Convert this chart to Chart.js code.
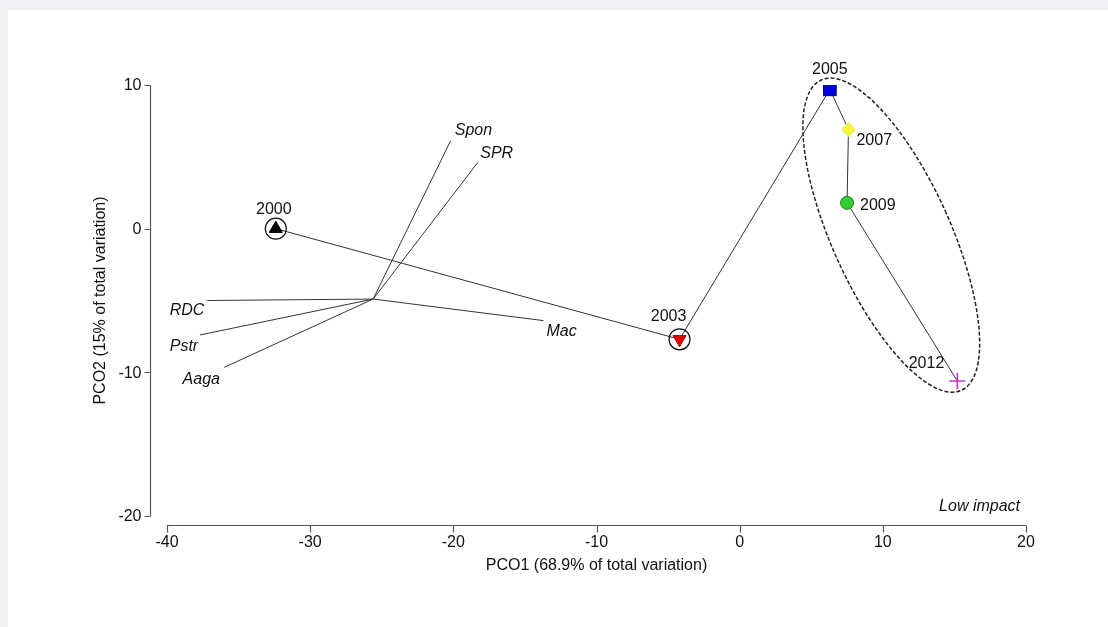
<!DOCTYPE html>
<html>
<head>
<meta charset="utf-8">
<title>PCO</title>
<script src="https://cdn.jsdelivr.net/npm/chart.js@4"></script>
<style>
  html, body { margin: 0; padding: 0; background: #f0f1f5; overflow: hidden; }
  #wrap { position: absolute; left: 8px; top: 10px; width: 1100px; height: 617px; background: #fff; }
  canvas { display: block; }
</style>
</head>
<body>
<div id="wrap"><canvas id="pco" width="1100" height="617"></canvas></div>
<script>
// sample years along the trajectory
const years = ['2000', '2003', '2005', '2007', '2009', '2012'];
const pco1 = [-32.4, -4.2, 6.3, 7.6, 7.5, 15.2];
const pco2 = [0, -7.7, 9.7, 6.9, 1.8, -10.6];
const circledYears = ['2000', '2003'];

// species / variable vectors, all drawn from one origin
const vectorNames = ['Spon', 'SPR', 'Mac', 'RDC', 'Pstr', 'Aaga'];
const vectorPco1 = [-20.2, -18.3, -13.7, -37.2, -37.7, -36.0];
const vectorPco2 = [6.1, 4.6, -6.4, -5.0, -7.4, -9.65];
const vectorOrigin = [-25.6, -4.9];

const xTicks = [-40, -30, -20, -10, 0, 10, 20];
const yTicks = [10, 0, -10, -20];

// group ellipse (centre, semi axes in axis units, tilt from vertical in degrees)
const groupCentre = [10.59, -0.45];
const groupAxes = [4.13, 11.85];
const groupTilt = -24.3;

const FONT = "'Liberation Sans', Arial, Helvetica, sans-serif";

// marker look per year
const markerStyle = ['triangle', 'triangle', 'rect', 'rectRot', 'circle', 'cross'];
const markerRotation = [0, 180, 0, 0, 0, 0];
const markerRadius = [7.5, 7.5, 9, 7, 6.5, 8];
const markerFill = ['#000000', '#e00000', '#0000e0', '#f4f43a', '#33cc33', '#cc33cc'];
const markerLine = ['#000000', '#b00000', '#000070', '#e8e870', '#1f7f1f', '#cc33cc'];
const markerLineWidth = [1, 1, 1, 1, 1, 1.6];

// label placement relative to the mark, in pixels: [dx, dy, align]
const yearLabelPos = [[-2, -19, 'center'], [-11, -23, 'center'], [0, -20, 'center'],
                      [8, 11, 'left'], [13, 3, 'left'], [-13, -17, 'right']];
const vectorLabelPos = [[23, -10, 'center'], [19, -9, 'center'], [18, 11, 'center'],
                        [-20, 10, 'center'], [-16, 12, 'center'], [-23, 12, 'center']];

const points = years.map((y, i) => ({ x: pco1[i], y: pco2[i] }));
const ringed = years.map((y, i) => circledYears.includes(y) ? { x: pco1[i], y: pco2[i] } : null)
                    .filter(p => p);

// each vector is origin -> tip, separated by a gap
const vectorSegments = [];
vectorNames.forEach((n, i) => {
  vectorSegments.push({ x: vectorOrigin[0], y: vectorOrigin[1] });
  vectorSegments.push({ x: vectorPco1[i], y: vectorPco2[i] });
  vectorSegments.push({ x: null, y: null });
});

const decorations = {
  id: 'decorations',
  beforeDatasetsDraw(chart) {
    const { ctx, scales: { x, y } } = chart;
    // dashed ellipse around the later years
    const cx = x.getPixelForValue(groupCentre[0]);
    const cy = y.getPixelForValue(groupCentre[1]);
    const rx = groupAxes[0] * Math.abs(x.getPixelForValue(1) - x.getPixelForValue(0));
    const ry = groupAxes[1] * Math.abs(y.getPixelForValue(1) - y.getPixelForValue(0));
    ctx.save();
    ctx.strokeStyle = '#222';
    ctx.lineWidth = 1.5;
    ctx.setLineDash([4, 2]);
    ctx.beginPath();
    ctx.ellipse(cx, cy, rx, ry, groupTilt * Math.PI / 180, 0, Math.PI * 2);
    ctx.stroke();
    ctx.restore();
  },
  afterDraw(chart) {
    const { ctx, chartArea, scales: { x, y } } = chart;
    ctx.save();
    ctx.strokeStyle = '#555';
    ctx.lineWidth = 1.2;
    ctx.fillStyle = '#111';

    // left axis, set off from the plot
    const ax = Math.round(chartArea.left - 17) + 0.5;
    const yTop = y.getPixelForValue(yTicks[0]);
    const yBot = y.getPixelForValue(yTicks[yTicks.length - 1]);
    ctx.beginPath();
    ctx.moveTo(ax, yTop);
    ctx.lineTo(ax, yBot);
    yTicks.forEach(v => {
      const py = Math.round(y.getPixelForValue(v)) + 0.5;
      ctx.moveTo(ax, py);
      ctx.lineTo(ax - 6, py);
    });
    ctx.stroke();
    ctx.font = '16px ' + FONT;
    ctx.textAlign = 'right';
    ctx.textBaseline = 'middle';
    yTicks.forEach(v => ctx.fillText(String(v), ax - 9, y.getPixelForValue(v) + 1));

    // bottom axis
    const ay = Math.round(chartArea.bottom + 9) + 0.5;
    ctx.beginPath();
    ctx.moveTo(x.getPixelForValue(xTicks[0]), ay);
    ctx.lineTo(x.getPixelForValue(xTicks[xTicks.length - 1]), ay);
    xTicks.forEach(v => {
      const px = Math.round(x.getPixelForValue(v)) + 0.5;
      ctx.moveTo(px, ay);
      ctx.lineTo(px, ay + 7);
    });
    ctx.stroke();
    ctx.textAlign = 'center';
    ctx.textBaseline = 'top';
    xTicks.forEach(v => ctx.fillText(String(v), x.getPixelForValue(v), ay + 9));

    // axis titles
    ctx.font = '16px ' + FONT;
    ctx.textBaseline = 'middle';
    ctx.fillText('PCO1 (68.9% of total variation)', (x.left + x.right) / 2, chartArea.bottom + 50);
    ctx.save();
    ctx.translate(chartArea.left - 66, (yTop + yBot) / 2);
    ctx.rotate(-Math.PI / 2);
    ctx.fillText('PCO2 (15% of total variation)', 0, 0);
    ctx.restore();

    // year labels
    ctx.font = '16px ' + FONT;
    years.forEach((label, i) => {
      const [dx, dy, align] = yearLabelPos[i];
      ctx.textAlign = align;
      ctx.fillText(label, x.getPixelForValue(pco1[i]) + dx, y.getPixelForValue(pco2[i]) + dy);
    });

    // vector labels
    ctx.font = 'italic 16px ' + FONT;
    vectorNames.forEach((label, i) => {
      const [dx, dy, align] = vectorLabelPos[i];
      ctx.textAlign = align;
      ctx.fillText(label, x.getPixelForValue(vectorPco1[i]) + dx, y.getPixelForValue(vectorPco2[i]) + dy);
    });

    ctx.font = 'italic 16px ' + FONT;
    ctx.textAlign = 'right';
    ctx.fillText('Low impact', chartArea.right - 6, chartArea.bottom - 9);
    ctx.restore();
  }
};

new Chart(document.getElementById('pco'), {
  type: 'scatter',
  data: {
    datasets: [
      {
        label: 'years',
        data: points,
        order: 0,
        pointStyle: markerStyle,
        rotation: markerRotation,
        pointRadius: markerRadius,
        backgroundColor: markerFill,
        borderColor: markerLine,
        borderWidth: markerLineWidth
      },
      {
        label: 'rings',
        data: ringed,
        order: 1,
        pointStyle: 'circle',
        pointRadius: 10.5,
        backgroundColor: 'rgba(0,0,0,0)',
        borderColor: '#111',
        borderWidth: 1.2
      },
      {
        label: 'trajectory',
        data: points,
        order: 2,
        showLine: true,
        pointRadius: 0,
        borderColor: '#333',
        borderWidth: 1
      },
      {
        label: 'vectors',
        data: vectorSegments,
        order: 3,
        showLine: true,
        spanGaps: false,
        pointRadius: 0,
        borderColor: '#333',
        borderWidth: 1
      }
    ]
  },
  options: {
    responsive: false,
    animation: false,
    layout: { padding: { left: 159, right: 82, top: 75, bottom: 111 } },
    plugins: { legend: { display: false }, tooltip: { enabled: false } },
    scales: {
      x: { type: 'linear', min: -40, max: 20, display: false },
      y: { type: 'linear', min: -20, max: 10, display: false }
    }
  },
  plugins: [decorations]
});
</script>
</body>
</html>
